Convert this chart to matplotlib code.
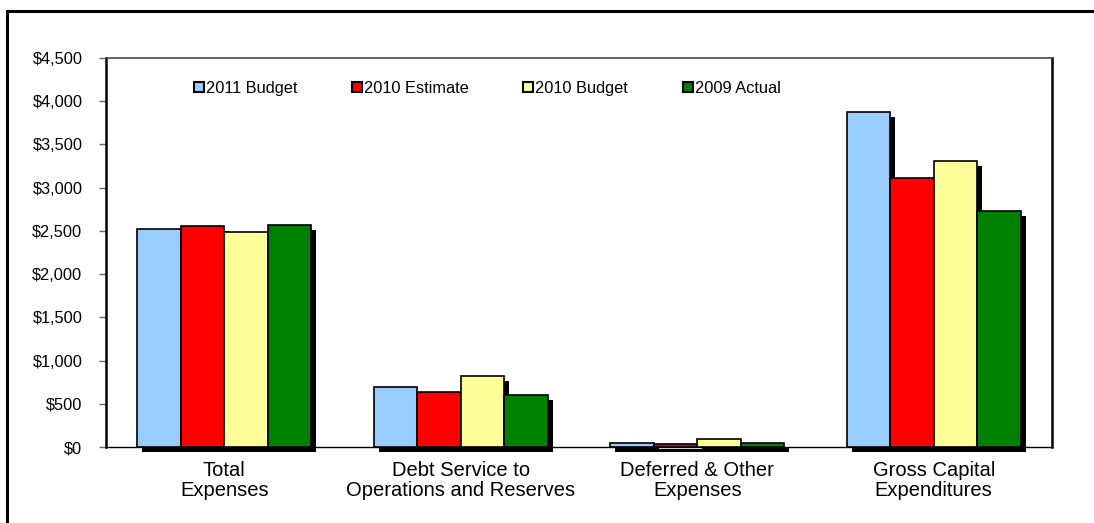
import matplotlib
matplotlib.use("Agg")
import matplotlib.pyplot as plt
import matplotlib.patheffects as pe
from matplotlib.patches import Rectangle
from matplotlib.ticker import FuncFormatter
import numpy as np

plt.rcParams['font.family'] = ['Liberation Sans', 'DejaVu Sans']

# Chart data (millions of dollars)
categories = ["Total\nExpenses", "Debt Service to\nOperations and Reserves",
              "Deferred & Other\nExpenses", "Gross Capital\nExpenditures"]
series_names = ["2011 Budget", "2010 Estimate", "2010 Budget", "2009 Actual"]
budget_2011 = [2525, 700, 45, 3880]
estimate_2010 = [2555, 635, 30, 3115]
budget_2010 = [2490, 820, 90, 3310]
actual_2009 = [2570, 600, 45, 2735]
colors = ["#99ccff", "#ff0000", "#ffff99", "#008000"]

series = [budget_2011, estimate_2010, budget_2010, actual_2009]

fig = plt.figure(figsize=(10.94, 5.23), dpi=100)
ax = fig.add_axes([0.0969, 0.1453, 0.8647, 0.7437])

# outer chart border (runs off the right/bottom of the image)
fig.patches.append(Rectangle((0.0064, -0.2), 1.2, 0.2 + 0.979, transform=fig.transFigure,
                             fill=False, edgecolor="black", linewidth=2.2))

x = np.arange(len(categories))
w = 0.184
shadow = [pe.SimplePatchShadow(offset=(3.6, -3.6), shadow_rgbFace="black", alpha=1.0), pe.Normal()]
for i, (vals, name, c) in enumerate(zip(series, series_names, colors)):
    bars = ax.bar(x + (i - 1.5) * w, vals, w, color=c, edgecolor="black",
                  linewidth=1.2, label=name, zorder=3)
    for b in bars:
        b.set_path_effects(shadow)
        b.set_clip_on(False)

ax.set_xlim(-0.5, len(categories) - 0.5)
ax.set_ylim(0, 4500)
ax.set_yticks(np.arange(0, 4501, 500))
ax.yaxis.set_major_formatter(FuncFormatter(lambda v, p: "${:,.0f}".format(v)))
ax.tick_params(axis="y", direction="out", length=5, width=1, color="#666666",
               labelsize=11.8, pad=12)
ax.set_xticks(x)
ax.set_xticklabels(categories, fontsize=14.5, linespacing=1.1)
ax.tick_params(axis="x", length=0, pad=10)

for s in ["left", "right", "bottom"]:
    ax.spines[s].set_linewidth(1.8)
    ax.spines[s].set_color("black")
ax.spines["top"].set_linewidth(1.2)
ax.spines["top"].set_color("#444444")
ax.spines["bottom"].set_linewidth(1.0)
ax.spines["bottom"].set_zorder(2)

leg = ax.legend(loc="center left", bbox_to_anchor=(0.086, 0.923), ncol=4, frameon=False,
                fontsize=11.8, handlelength=0.6, handleheight=0.6, handletextpad=0.12,
                columnspacing=3.35, borderaxespad=0)
for h in leg.legend_handles:
    h.set_path_effects([])
    h.set_linewidth(1.5)

fig.savefig("out.png", dpi=100)
